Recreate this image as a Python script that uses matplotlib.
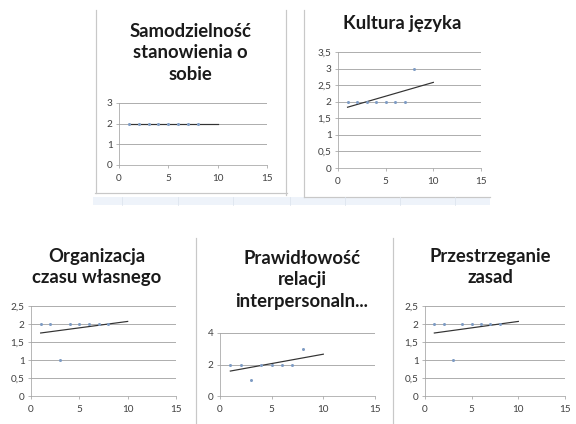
import numpy as np
import matplotlib
matplotlib.use('Agg')
import matplotlib.pyplot as plt
from matplotlib.lines import Line2D
from matplotlib.patches import Rectangle

# data (x = respondent / pomiar 1..8)
x = [1, 2, 3, 4, 5, 6, 7, 8]
samodzielnosc = [2, 2, 2, 2, 2, 2, 2, 2]
kultura = [2, 2, 2, 2, 2, 2, 2, 3]
organizacja = [2, 2, 1, 2, 2, 2, 2, 2]
prawidlowosc = [2, 2, 1, 2, 2, 2, 2, 3]
przestrzeganie = [2, 2, 1, 2, 2, 2, 2, 2]

titles = ['Samodzielność\nstanowienia o\nsobie', 'Kultura języka',
          'Organizacja\nczasu własnego', 'Prawidłowość\nrelacji\ninterpersonaln...',
          'Przestrzeganie\nzasad']
series = [samodzielnosc, kultura, organizacja, prawidlowosc, przestrzeganie]
yticks = [[0, 1, 2, 3], [0, 0.5, 1, 1.5, 2, 2.5, 3, 3.5], [0, 0.5, 1, 1.5, 2, 2.5],
          [0, 2, 4], [0, 0.5, 1, 1.5, 2, 2.5]]
xticks = [0, 5, 10, 15]

W, H = 576, 424
plt.rcParams['font.family'] = ['Lato', 'DejaVu Sans']
fig = plt.figure(figsize=(W / 72, H / 72), dpi=72)
fig.patch.set_facecolor('white')

def box(x0, y0, x1, y1):
    return [x0 / W, 1 - y1 / H, (x1 - x0) / W, (y1 - y0) / H]

# plot areas in pixels (left, top, right, bottom)
areas = [(119, 103, 267, 165), (338, 52, 481, 168), (31, 306, 176, 396),
         (220, 333, 375, 396), (425, 306, 565, 396)]
# title centre x, centre y
tpos = [(190, 53), (402, 24), (97, 267), (302, 280), (490, 267)]

grey = '#a6a6a6'
for i in range(5):
    ax = fig.add_axes(box(*areas[i]))
    ys = series[i]
    ax.set_xlim(0, 15)
    ax.set_ylim(0, yticks[i][-1])
    ax.set_xticks(xticks)
    ax.set_yticks(yticks[i])
    ax.set_yticklabels([('%g' % v).replace('.', ',') for v in yticks[i]])
    ax.grid(axis='y', color=grey, linewidth=0.9)
    ax.set_axisbelow(True)
    for s in ['top', 'right']:
        ax.spines[s].set_visible(False)
    for s in ['left', 'bottom']:
        ax.spines[s].set_color(grey)
    ax.tick_params(colors=grey, labelcolor='#404040', labelsize=10, length=3, width=0.8)
    ax.tick_params(axis='x', pad=6)
    ax.patch.set_alpha(0)
    ax.plot(x, ys, 'o', ms=2, color='#7f9cc4', zorder=3)
    k, b = np.polyfit(x, ys, 1)
    xt = np.array([1, 10])
    ax.plot(xt, k * xt + b, color='#333333', linewidth=1.2, zorder=2)
    fig.text(tpos[i][0] / W, 1 - tpos[i][1] / H, titles[i], ha='center', va='center',
             fontsize=18.5, fontweight='bold', color='#1a1a1a', linespacing=1.35)

# excel-like frame lines and cell strip
lines = [((96, 96), (10, 193)), ((95, 287), (193, 193)), ((286, 286), (10, 195)),
         ((304, 304), (10, 197)), ((304, 490), (197, 197)),
         ((196, 196), (238, 424)), ((393, 393), (238, 424))]
for (xs, yy) in lines:
    fig.add_artist(Line2D([v / W for v in xs], [1 - v / H for v in yy],
                          color='#c8c8c8', linewidth=1.2))
fig.add_artist(Rectangle((93 / W, 1 - 205 / H), (490 - 93) / W, 8 / H,
                         facecolor='#eef3fa', edgecolor='none'))
for cx in [122, 178, 233, 290, 345, 400, 455]:
    fig.add_artist(Line2D([cx / W, cx / W], [1 - 205 / H, 1 - 197 / H],
                          color='#dde4ee', linewidth=0.8))

fig.savefig('out.png', dpi=72)
